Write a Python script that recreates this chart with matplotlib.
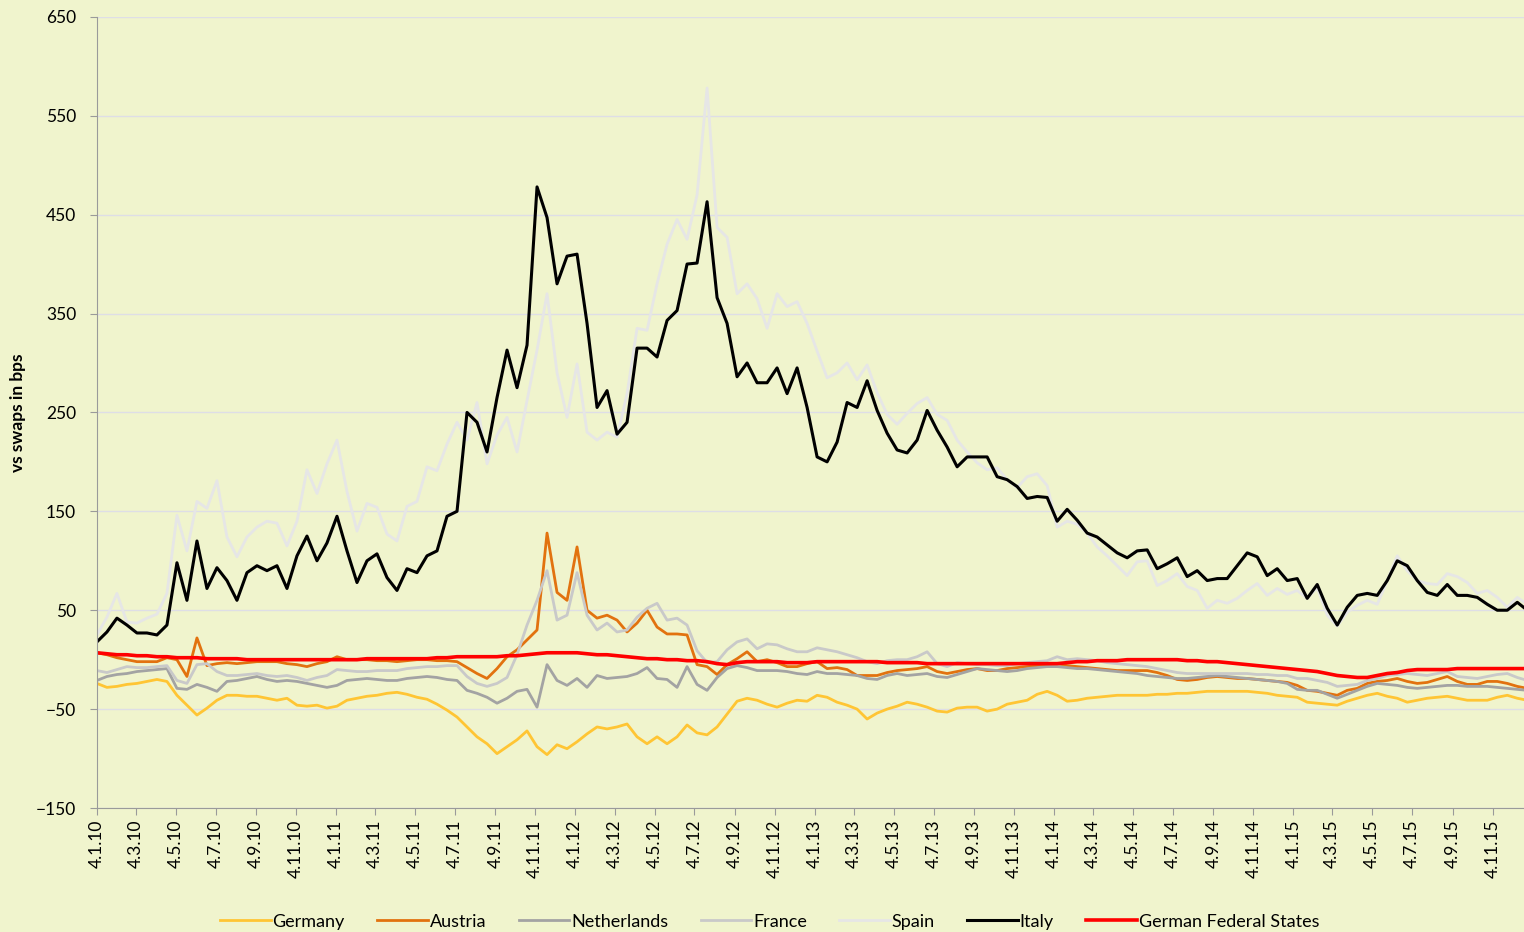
import matplotlib
matplotlib.use("Agg")
import matplotlib.pyplot as plt
import matplotlib.dates as mdates
import matplotlib.ticker as mticker
import pandas as pd

# ── Data (semi-monthly readings, bps vs swaps) ─────────────────────────
dates = pd.date_range("2010-01-04", "2015-12-27", periods=144)

germany = [-24, -28, -27, -25, -24, -22, -20, -22, -36, -46,
           -56, -49, -41, -36, -36, -37, -37, -39, -41, -39,
           -46, -47, -46, -49, -47, -41, -39, -37, -36, -34,
           -33, -35, -38, -40, -45, -51, -58, -68, -78, -85,
           -95, -88, -81, -72, -88, -96, -86, -90, -83, -75,
           -68, -70, -68, -65, -78, -85, -78, -85, -78, -66,
           -74, -76, -68, -55, -42, -39, -41, -45, -48, -44,
           -41, -42, -36, -38, -43, -46, -50, -60, -54, -50,
           -47, -43, -45, -48, -52, -53, -49, -48, -48, -52,
           -50, -45, -43, -41, -35, -32, -36, -42, -41, -39,
           -38, -37, -36, -36, -36, -36, -35, -35, -34, -34,
           -33, -32, -32, -32, -32, -32, -33, -34, -36, -37,
           -38, -43, -44, -45, -46, -42, -39, -36, -34, -37,
           -39, -43, -41, -39, -38, -37, -39, -41, -41, -41,
           -38, -36, -39, -41]

austria = [7, 5, 2, 0, -2, -2, -2, 2, 0, -17,
           22, -6, -4, -3, -4, -3, -2, -2, -2, -4,
           -5, -7, -4, -2, 3, 0, 0, 0, -1, -1,
           -2, -1, 0, 0, -1, -1, -2, -8, -14, -19,
           -9, 3, 10, 20, 30, 128, 68, 60, 114, 50,
           42, 45, 40, 28, 37, 50, 33, 26, 26, 25,
           -5, -7, -15, -5, 1, 8, -2, 0, -3, -7,
           -7, -4, -2, -9, -8, -10, -16, -16, -16, -13,
           -11, -10, -9, -7, -12, -14, -12, -10, -9, -11,
           -11, -9, -8, -7, -6, -5, -4, -6, -7, -8,
           -9, -10, -11, -11, -11, -11, -13, -16, -20, -21,
           -20, -18, -17, -18, -19, -19, -20, -21, -22, -23,
           -26, -31, -32, -34, -36, -31, -29, -24, -22, -21,
           -19, -22, -24, -23, -20, -17, -22, -25, -25, -22,
           -22, -24, -27, -29]

netherlands = [-21, -17, -15, -14, -12, -11, -10, -9, -29, -30,
               -25, -28, -32, -22, -21, -19, -17, -20, -22, -21,
               -22, -24, -26, -28, -26, -21, -20, -19, -20, -21,
               -21, -19, -18, -17, -18, -20, -21, -31, -34, -38,
               -44, -39, -32, -30, -48, -5, -21, -26, -19, -28,
               -16, -19, -18, -17, -14, -8, -19, -20, -28, -7,
               -25, -31, -18, -9, -6, -8, -11, -11, -11, -12,
               -14, -15, -12, -14, -14, -15, -16, -19, -20, -16,
               -14, -16, -15, -14, -17, -18, -15, -12, -9, -10,
               -11, -12, -11, -9, -8, -7, -7, -8, -9, -9,
               -10, -11, -12, -13, -14, -16, -17, -18, -19, -19,
               -18, -17, -16, -17, -18, -19, -20, -21, -22, -24,
               -30, -31, -31, -35, -39, -35, -31, -27, -24, -25,
               -26, -28, -29, -28, -27, -26, -26, -27, -27, -27,
               -28, -29, -30, -31]

france = [-11, -13, -10, -7, -8, -8, -7, -6, -21, -24,
          -5, -4, -12, -16, -16, -15, -14, -16, -17, -16,
          -18, -21, -18, -16, -10, -11, -12, -12, -11, -11,
          -11, -9, -8, -7, -7, -6, -6, -17, -24, -27,
          -24, -18, 5, 35, 60, 90, 40, 45, 88, 45,
          30, 37, 28, 30, 43, 52, 57, 40, 42, 35,
          9, -3, -2, 10, 18, 21, 11, 16, 15, 11,
          8, 8, 12, 10, 8, 5, 2, -2, -4, -1,
          0, 0, 3, 8, -4, -7, -3, -4, -5, -5,
          -6, -6, -4, -3, -2, -1, 3, 0, 1, 0,
          -1, -3, -4, -5, -6, -7, -9, -11, -13, -14,
          -14, -14, -14, -14, -14, -14, -15, -15, -16, -16,
          -19, -19, -21, -23, -27, -26, -25, -21, -19, -16,
          -15, -14, -15, -16, -14, -12, -17, -18, -19, -17,
          -15, -14, -18, -21]

spain = [25, 43, 67, 38, 37, 42, 46, 67, 146, 110,
         160, 153, 181, 124, 104, 124, 134, 140, 138, 115,
         140, 192, 168, 198, 222, 170, 130, 158, 154, 127,
         120, 155, 160, 195, 191, 218, 240, 222, 260, 198,
         227, 245, 210, 262, 313, 370, 290, 245, 299, 230,
         222, 230, 225, 269, 335, 333, 380, 420, 445, 425,
         470, 578, 437, 427, 370, 380, 365, 335, 370, 357,
         362, 340, 312, 285, 290, 300, 283, 298, 270, 248,
         238, 249, 259, 265, 248, 242, 222, 210, 199, 192,
         194, 182, 174, 185, 188, 176, 134, 140, 137, 128,
         114, 105, 95, 85, 99, 100, 75, 80, 87, 74,
         70, 52, 60, 57, 62, 70, 77, 65, 72, 66,
         70, 62, 73, 45, 34, 48, 55, 60, 56, 80,
         105, 90, 80, 77, 76, 87, 84, 78, 67, 70,
         63, 53, 63, 56]

italy = [18, 28, 42, 35, 27, 27, 25, 35, 98, 60,
         120, 72, 93, 80, 60, 88, 95, 90, 95, 72,
         105, 125, 100, 118, 145, 110, 78, 100, 107, 83,
         70, 92, 88, 105, 110, 145, 150, 250, 240, 210,
         265, 313, 275, 318, 478, 447, 380, 408, 410, 340,
         255, 272, 228, 240, 315, 315, 306, 343, 353, 400,
         401, 463, 366, 340, 286, 300, 280, 280, 295, 269,
         295, 255, 205, 200, 220, 260, 255, 282, 252, 229,
         212, 209, 222, 252, 232, 215, 195, 205, 205, 205,
         185, 182, 175, 163, 165, 164, 140, 152, 141, 128,
         124, 116, 108, 103, 110, 111, 92, 97, 103, 84,
         90, 80, 82, 82, 95, 108, 104, 85, 92, 80,
         82, 62, 76, 52, 35, 53, 65, 67, 65, 80,
         100, 95, 80, 68, 65, 76, 65, 65, 63, 56,
         50, 50, 58, 50]

german_states = [7, 6, 5, 5, 4, 4, 3, 3, 2, 2,
                 2, 1, 1, 1, 1, 0, 0, 0, 0, 0,
                 0, 0, 0, 0, 0, 0, 0, 1, 1, 1,
                 1, 1, 1, 1, 2, 2, 3, 3, 3, 3,
                 3, 4, 4, 5, 6, 7, 7, 7, 7, 6,
                 5, 5, 4, 3, 2, 1, 1, 0, 0, -1,
                 -1, -2, -4, -5, -3, -2, -2, -2, -2, -3,
                 -3, -3, -2, -2, -2, -2, -2, -2, -2, -3,
                 -3, -3, -3, -4, -4, -4, -4, -4, -4, -4,
                 -4, -4, -4, -4, -4, -4, -4, -3, -2, -2,
                 -1, -1, -1, 0, 0, 0, 0, 0, 0, -1,
                 -1, -2, -2, -3, -4, -5, -6, -7, -8, -9,
                 -10, -11, -12, -14, -16, -17, -18, -18, -16, -14,
                 -13, -11, -10, -10, -10, -10, -9, -9, -9, -9,
                 -9, -9, -9, -9]

series = [
    ("Germany", germany, "#FFC534", 2.0),
    ("Austria", austria, "#E2720F", 2.0),
    ("Netherlands", netherlands, "#A3A3A3", 2.0),
    ("France", france, "#C9C9C9", 2.0),
    ("Spain", spain, "#E6E6E6", 2.0),
    ("Italy", italy, "#000000", 2.2),
    ("German Federal States", german_states, "#FF0000", 2.6),
]

# ── Style ──────────────────────────────────────────────────────────────
BG = "#F0F4CD"
GRID = "#DEDEE6"
AXIS = "#9A9A9A"
plt.rcParams["font.family"] = ["Lato", "DejaVu Sans"]

fig = plt.figure(figsize=(15.24, 9.32), dpi=100)
fig.patch.set_facecolor(BG)
ax = fig.add_axes([0.0636, 0.133, 0.9364, 0.849])
ax.set_facecolor(BG)

for name, vals, color, lw in series:
    ax.plot(dates, vals, color=color, lw=lw, label=name, solid_joinstyle="round")

ax.set_ylim(-150, 650)
ax.set_yticks(range(-150, 651, 100))
ax.set_xlim(pd.Timestamp("2010-01-04"), pd.Timestamp("2015-12-22"))

# ticks on the 4th of every second month
ticks = pd.date_range("2010-01-01", "2015-11-01", freq="2MS") + pd.Timedelta(days=3)
ax.set_xticks(ticks)
ax.xaxis.set_major_formatter(mticker.FuncFormatter(
    lambda v, pos: (lambda d: f"{d.day}.{d.month}.{d.year % 100:02d}")(mdates.num2date(v))))
plt.setp(ax.get_xticklabels(), rotation=90)

ax.grid(axis="y", color=GRID, linewidth=1)
ax.set_axisbelow(True)
for s in ("top", "right"):
    ax.spines[s].set_visible(False)
for s in ("left", "bottom"):
    ax.spines[s].set_color(AXIS)
ax.tick_params(axis="both", colors=AXIS, labelcolor="#000000", labelsize=12.5,
               length=5, direction="out")
ax.tick_params(axis="y", pad=10)

ax.set_ylabel("vs swaps in bps", fontsize=12.5, fontweight="bold")
ax.yaxis.set_label_coords(-0.05, 0.5)

fig.legend(loc="lower center", bbox_to_anchor=(0.505, -0.015), ncol=7, frameon=False,
           fontsize=13, handlelength=2.8, columnspacing=1.8, handletextpad=0.1)

fig.savefig("out.png", dpi=100, facecolor=BG)
